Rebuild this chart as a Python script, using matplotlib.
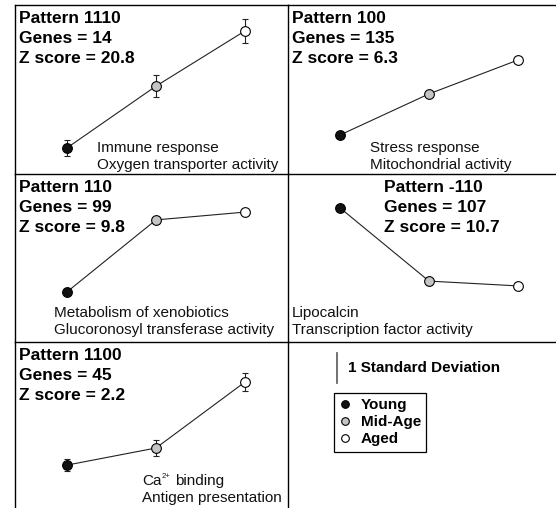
import numpy as np
import matplotlib.pyplot as plt
from matplotlib.lines import Line2D

plt.rcParams['font.family'] = 'Liberation Sans'

# Figure size in pixels
W, H = 556, 508

# Age groups
ages = ['Young', 'Mid-Age', 'Aged']
age_x = [1, 2, 3]
age_colors = ['#111111', '#c4c4c4', 'white']

# Cluster summary
patterns = ['1110', '100', '110', '-110', '1100']
genes = [14, 135, 99, 107, 45]
zscores = [20.8, 6.3, 9.8, 10.7, 2.2]

# Mean expression per age group (SD units)
expr_1110 = [0.87, 2.93, 4.77]
expr_100 = [1.30, 2.67, 3.80]
expr_110 = [1.67, 4.07, 4.33]
expr_m110 = [4.47, 2.03, 1.87]
expr_1100 = [1.43, 2.00, 4.20]
sd_1110 = [0.27, 0.37, 0.40]
sd_1100 = [0.20, 0.27, 0.30]

# Enriched annotation terms
terms_1110 = ['Immune response', 'Oxygen transporter activity']
terms_100 = ['Stress response', 'Mitochondrial activity']
terms_110 = ['Metabolism of xenobiotics', 'Glucoronosyl transferase activity']
terms_m110 = ['Lipocalcin', 'Transcription factor activity']
terms_1100 = [None, 'Antigen presentation']   # first line has a superscript

fig = plt.figure(figsize=(W / 100, H / 100), dpi=100)

cols = [(15, 288), (288, 556)]
rows = [(5, 174), (174, 342), (342, 508)]
px_x = 89    # pixels per age step
px_sd = 30   # pixels per standard deviation


def fpos(x, y):
    return x / W, 1 - y / H


def make_panel(r, c):
    x0, x1 = cols[c]
    y0, y1 = rows[r]
    ax = fig.add_axes([x0 / W, 1 - y1 / H, (x1 - x0) / W, (y1 - y0) / H])
    lo = 1 - 52 / px_x
    ax.set_xlim(lo, lo + (x1 - x0) / px_x)
    ax.set_ylim(0, (y1 - y0) / px_sd)
    ax.spines['right'].set_visible(False)
    ax.spines['bottom'].set_visible(False)
    for s in ['top', 'left']:
        ax.spines[s].set_linewidth(1.0)
        ax.spines[s].set_color('black')
    ax.set_xticks([])
    ax.set_yticks([])
    return ax


panels = [
    (0, 0, expr_1110, sd_1110, terms_1110, 97, 152),
    (0, 1, expr_100, None, terms_100, 370, 152),
    (1, 0, expr_110, None, terms_110, 54, 317),
    (1, 1, expr_m110, None, terms_m110, 292, 317),
    (2, 0, expr_1100, sd_1100, terms_1100, 142, 485),
]

for i, (r, c, expr, sd, terms, tx, ty) in enumerate(panels):
    ax = make_panel(r, c)
    ax.plot(age_x, expr, color='#222222', lw=0.8, zorder=1)
    if sd is not None:
        ax.errorbar(age_x, expr, yerr=sd, fmt='none', ecolor='#222222',
                    elinewidth=0.8, capsize=2.5, capthick=0.8, zorder=2)
    for x, y, col in zip(age_x, expr, age_colors):
        ax.plot(x, y, 'o', ms=7, mfc=col, mec='black', mew=0.8, zorder=3)

    # header text
    hx = cols[c][0] + 4
    if patterns[i] == '-110':
        hx = 384
    top = rows[r][0]
    header = ['Pattern %s' % patterns[i], 'Genes = %d' % genes[i],
              'Z score = %.1f' % zscores[i]]
    for k, line in enumerate(header):
        fig.text(*fpos(hx, top + 18 + 20 * k), line, fontsize=12.5,
                 fontweight='bold', va='baseline', ha='left')

    # annotation terms
    for k, line in enumerate(terms):
        if line is None:
            continue
        fig.text(*fpos(tx, ty + 17 * k), line, fontsize=11,
                 va='baseline', ha='left', color='#111111')

# Ca2+ with a small raised charge
fig.text(*fpos(142, 485), 'Ca', fontsize=11, va='baseline', color='#111111')
fig.text(*fpos(162, 478), '2+', fontsize=5.5, va='baseline', color='#111111')
fig.text(*fpos(175, 485), 'binding', fontsize=11, va='baseline',
         color='#111111')

# Key panel
ax = make_panel(2, 1)
lo = 1 - 52 / px_x
bar_x = lo + (337 - 288) / px_x
bar_y = (508 - 383) / px_sd
ax.plot([bar_x, bar_x], [bar_y, bar_y + 1], color='#666666', lw=1.3)
fig.text(*fpos(348, 372), '1 Standard Deviation', fontsize=11,
         fontweight='bold', va='baseline', ha='left')

handles = [Line2D([], [], ls='none', marker='o', ms=5.5, mfc=col,
                  mec='black', mew=0.8) for col in age_colors]
leg = ax.legend(handles, ages, loc='upper left',
                bbox_to_anchor=fpos(334, 393), bbox_transform=fig.transFigure,
                frameon=True, fancybox=False, edgecolor='black', framealpha=1,
                prop={'weight': 'bold', 'size': 11}, handlelength=0.8,
                handletextpad=0.6, labelspacing=0.2, borderpad=0.35,
                borderaxespad=0)
leg.get_frame().set_linewidth(0.9)

fig.savefig('out.png', dpi=100)
